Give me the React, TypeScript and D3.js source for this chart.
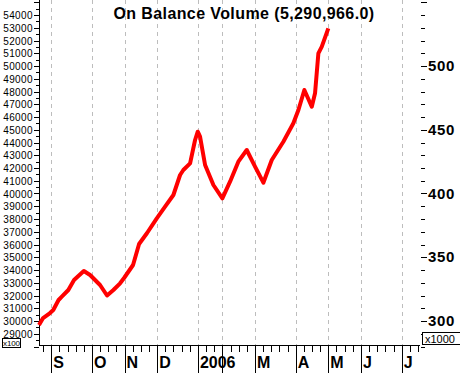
import React from "react";
import * as d3 from "d3";

const W = 460;
const H = 373;

// OBV series (x in weeks since start, value in units of 100)
const weekPos = [-0.5, 0, 0.85, 1.25, 1.9, 2.3, 3.1, 3.8, 4.33, 5.0, 5.77, 6.99, 7.85, 8.63, 9.45, 9.94, 11.04, 11.78, 12.76, 13.95, 14.97, 15.99, 16.81, 17.21, 18.04, 18.65, 18.98, 19.26, 19.88, 20.9, 22.0, 22.94, 23.96, 24.99, 26.01, 27.03, 28.06, 29.48, 30.71, 31.33, 32.06, 32.97, 33.37, 33.78, 34.2, 35.0];
const obv = [29690, 30235, 30627, 30863, 31647, 31906, 32431, 33216, 33529, 33920, 33608, 32823, 32000, 32431, 32957, 33372, 34392, 36039, 36902, 38054, 38964, 39882, 41451, 41843, 42368, 44196, 44847, 44455, 42235, 40667, 39623, 40925, 42494, 43412, 42102, 40847, 42627, 44063, 45506, 46549, 48117, 46808, 47859, 50996, 51514, 52957];

// month boundaries (week index) and labels
const monthWeeks = [1, 6, 10, 14, 19, 22, 26, 31, 35, 39, 44];
const monthLabels = ["S", "O", "N", "D", "2006", "", "M", "A", "M", "J", "J"];

const leftTicks = d3.range(29000, 54001, 1000);
const rightTicks = [300, 350, 400, 450, 500];
const title = "On Balance Volume (5,290,966.0)";

export default function App() {
  const left = 39;
  const right = 420;
  const bottom = 345;
  const x = d3.scaleLinear().domain([-0.5, 46.25]).range([left, right]);
  const y = d3.scaleLinear().domain([30000, 54000]).range([321, 15]);

  const line = d3
    .line<number>()
    .x((_, i) => x(weekPos[i]))
    .y((d) => y(d));

  const weekTicks = d3.range(0, 47);
  const minorLeft = d3.range(28000, 55001, 500);
  const minorRight = d3.range(280, 551, 10);
  const sans = "'Liberation Sans', Arial, sans-serif";

  return (
    <svg
      width={W}
      height={H}
      style={{ position: "absolute", left: 0, top: 0, background: "#fff" }}
    >
      <rect x={0} y={0} width={W} height={H} fill="#fff" />
      {/* grid lines */}
      {monthWeeks.map((w, i) => (
        <line
          key={"g" + i}
          x1={Math.round(x(w)) + 0.5}
          x2={Math.round(x(w)) + 0.5}
          y1={0}
          y2={bottom}
          stroke="#bdbdbd"
          strokeDasharray="4,4"
          strokeWidth={1}
        />
      ))}
      {/* left axis */}
      <line x1={left + 0.5} x2={left + 0.5} y1={0} y2={bottom} stroke="#000" />
      {minorLeft.map((v) => (
        <line
          key={"ml" + v}
          x1={v % 1000 === 0 ? left - 5 : left - 3}
          x2={left}
          y1={Math.round(y(v)) + 0.5}
          y2={Math.round(y(v)) + 0.5}
          stroke="#000"
        />
      ))}
      {leftTicks.map((v) => (
        <text
          key={"lt" + v}
          x={33}
          y={y(v) + 4}
          textAnchor="end"
          fontFamily={sans}
          fontSize={10}
          letterSpacing={0.4}
          fill="#000"
        >
          {v}
        </text>
      ))}
      {/* x100 box */}
      <rect x={2.5} y={338.5} width={18} height={9} fill="#fff" stroke="#000" />
      <text x={3} y={346} fontFamily={sans} fontSize={8} fill="#000" textLength={17}>
        x100
      </text>
      {/* right axis */}
      {minorRight.map((v) => (
        <line
          key={"mr" + v}
          x1={right + 1}
          x2={v % 50 === 0 ? right + 7 : right + 5}
          y1={Math.round(y(v * 100)) + 0.5}
          y2={Math.round(y(v * 100)) + 0.5}
          stroke="#000"
        />
      ))}
      {rightTicks.map((v) => (
        <text
          key={"rt" + v}
          x={428}
          y={y(v * 100) + 5}
          fontFamily={sans}
          fontWeight="bold"
          fontSize={15}
          letterSpacing={0.6}
          fill="#000"
        >
          {v}
        </text>
      ))}
      <rect x={422.5} y={332.5} width={40} height={12} fill="#fff" stroke="#000" />
      <text x={425} y={343} fontFamily={sans} fontSize={11} fill="#000">
        x1000
      </text>
      {/* bottom axis */}
      <line x1={left} x2={right} y1={bottom + 0.5} y2={bottom + 0.5} stroke="#000" />
      {weekTicks.map((w) => (
        <line
          key={"wt" + w}
          x1={Math.round(x(w)) + 0.5}
          x2={Math.round(x(w)) + 0.5}
          y1={bottom}
          y2={bottom + 7}
          stroke="#000"
        />
      ))}
      {monthWeeks.map((w, i) => (
        <line
          key={"mt" + i}
          x1={Math.round(x(w)) + 0.5}
          x2={Math.round(x(w)) + 0.5}
          y1={bottom}
          y2={H}
          stroke="#000"
        />
      ))}
      {monthWeeks.map((w, i) => (
        <text
          key={"ml" + i}
          x={x(w) + 2}
          y={368}
          fontFamily={sans}
          fontWeight="bold"
          fontSize={16}
          fill="#000"
        >
          {monthLabels[i]}
        </text>
      ))}
      {/* OBV line */}
      <path
        d={line(obv) || ""}
        fill="none"
        stroke="#ff0000"
        strokeWidth={4}
        strokeLinejoin="round"
        strokeLinecap="butt"
      />
      {/* title */}
      <text
        x={244}
        y={19}
        textAnchor="middle"
        fontFamily={sans}
        fontWeight="bold"
        fontSize={16}
        letterSpacing={0.4}
        fill="#000"
      >
        {title}
      </text>
    </svg>
  );
}
